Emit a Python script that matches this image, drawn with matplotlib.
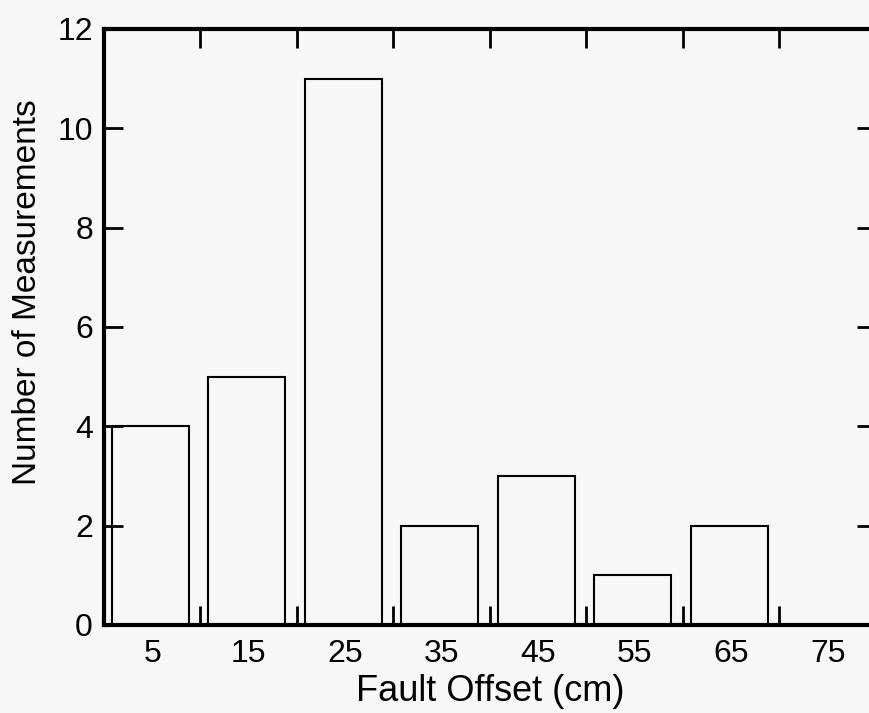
import matplotlib
matplotlib.use("Agg")
import matplotlib.pyplot as plt
import numpy as np

plt.rcParams['font.family'] = ['Liberation Sans', 'DejaVu Sans']

bin_centers = [5, 15, 25, 35, 45, 55, 65, 75]
counts = [4, 5, 11, 2, 3, 1, 2, 0]
bin_edges_ticks = [10, 20, 30, 40, 50, 60, 70]
y_ticks = [0, 2, 4, 6, 8, 10, 12]

bg = '#f7f7f7'
fig = plt.figure(figsize=(8.7, 7.13), dpi=100, facecolor=bg)
ax = fig.add_axes([104/870, 88/713, 772/870, 596/713], facecolor=bg)

ax.bar(np.array(bin_centers) - 0.2, counts, width=8, facecolor='none',
       edgecolor='black', linewidth=1.5)

ax.set_xlim(0, 80)
ax.set_ylim(0, 12)

ax.set_xticks(bin_edges_ticks)
ax.set_xticklabels([])
ax.set_xticks(bin_centers, minor=True)
ax.set_xticklabels([str(c) for c in bin_centers], minor=True, fontsize=23)
ax.tick_params(axis='x', which='minor', length=0, pad=10)
ax.tick_params(axis='x', which='major', direction='in', length=14, width=2,
               top=True, bottom=True)

ax.set_yticks(y_ticks)
ax.set_yticklabels([str(v) for v in y_ticks], fontsize=23)
ax.tick_params(axis='y', which='major', direction='in', length=14, width=2,
               left=True, right=True, pad=8)

for s in ax.spines.values():
    s.set_linewidth(3)

ax.set_xlabel('Fault Offset (cm)', fontsize=26, labelpad=4)
ax.set_ylabel('Number of Measurements', fontsize=24)
ax.yaxis.set_label_coords(-0.079, 0.559)

fig.savefig('out.png', dpi=100, facecolor=bg)
